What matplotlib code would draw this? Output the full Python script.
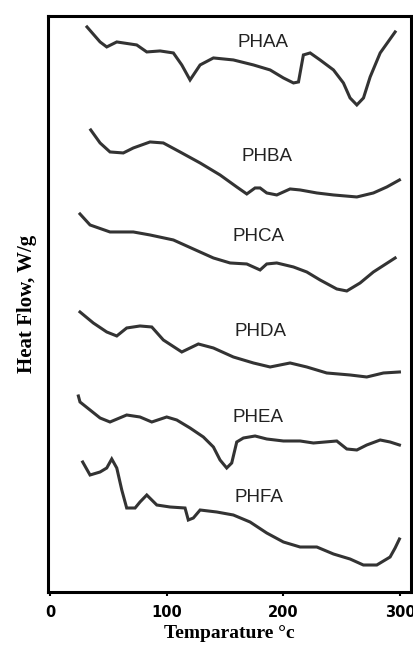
import matplotlib.pyplot as plt

# DSC traces, temperature in deg C, heat flow in arbitrary (offset) units
phaa_t = [31.7, 42.9, 48.6, 57.2, 74.3, 82.9, 94.3, 105.7, 112.9, 120, 128.6, 140, 157.1, 174.3,
          188.6, 200, 208.6, 212.9, 217.1, 222.9, 231.4, 242.9, 251.4, 257.1, 262.9, 268.6, 274.3,
          282.9, 295.7]
phaa_v = [565, 550, 545, 550, 547, 540, 541, 539, 527, 512, 527, 534, 532, 527,
          522, 514, 509, 510, 537, 539, 532, 522, 509, 494, 487, 494, 515,
          539, 560]

phba_t = [34.9, 42.9, 51.4, 62.8, 71.4, 85.7, 97.1, 111.4, 128.6, 145.7, 160, 168.6, 175.7, 180,
          185.7, 194.3, 205.7, 214.3, 228.6, 242.9, 262.9, 277.1, 288.6, 299.4]
phba_v = [462, 449, 440, 439, 444, 450, 449, 440, 429, 417, 405, 398, 404, 404,
          399, 397, 403, 402, 399, 397, 395, 399, 405, 412]

phca_t = [25.7, 34.3, 51.4, 71.4, 85.7, 105.7, 122.8, 140, 154.3, 168.6, 180, 185.7, 194.3, 208.6,
          220, 231.4, 245.7, 254.3, 265.7, 277.1, 295.7]
phca_v = [378, 367, 360, 360, 357, 352, 343, 334, 329, 328, 322, 328, 329, 325,
          320, 312, 303, 301, 309, 320, 334]

phda_t = [25.7, 37.1, 48.6, 57.2, 65.7, 77.1, 87.2, 97.1, 112.9, 127.1, 140, 157.1, 174.3, 188.6,
          205.7, 220, 237.1, 257.1, 271.4, 285.7, 299.4]
phda_v = [280, 269, 260, 256, 264, 266, 265, 252, 240, 248, 244, 235, 229, 225,
          229, 225, 219, 217, 215, 219, 220]

phea_t = [24.3, 25.7, 34.3, 42.9, 51.4, 65.7, 77.1, 87.2, 100, 108.6, 120, 131.4, 140, 145.7,
          151.4, 155.7, 160, 165.7, 175.7, 185.7, 200, 214.3, 225.7, 245.7, 254.3, 262.9, 271.4,
          282.9, 291.4, 299.4]
phea_v = [196, 190, 182, 174, 170, 177, 175, 170, 175, 172, 164, 155, 145, 132,
          124, 129, 150, 154, 156, 153, 151, 151, 149, 151, 143, 142, 147,
          152, 150, 147]

phfa_t = [28, 34.3, 42.9, 48.6, 52.9, 57.2, 61.5, 65.7, 72.9, 77.1, 82.9, 91.5, 102.9, 115.7,
          118.5, 122.8, 128.6, 142.9, 157.1, 171.4, 185.7, 200, 214.3, 228.6, 242.9, 257.1, 268.5,
          280, 291.4, 295.7, 299.4]
phfa_v = [130, 117, 120, 124, 133, 124, 102, 84, 84, 90, 97, 87, 85, 84,
          72, 74, 82, 80, 77, 70, 59, 50, 45, 45, 38, 33, 27,
          27, 35, 44, 53]

names = ["PHAA", "PHBA", "PHCA", "PHDA", "PHEA", "PHFA"]
label_t = [182.6, 186, 178.6, 180, 178.6, 179.4]
label_v = [549, 435, 355, 260, 174, 95]

traces = [(phaa_t, phaa_v), (phba_t, phba_v), (phca_t, phca_v),
          (phda_t, phda_v), (phea_t, phea_v), (phfa_t, phfa_v)]

fig = plt.figure(figsize=(4.14, 6.48), dpi=100)
ax = fig.add_axes([0.116, 0.0864, 0.877, 0.889])

for (t, v), name, lt, lv in zip(traces, names, label_t, label_v):
    ax.plot(t, v, color="#333333", lw=2.2, solid_joinstyle="miter")
    ax.text(lt, lv, name, ha="center", va="center", fontsize=13.5,
            family="Liberation Sans", color="#222222")

ax.set_xlim(-1.7, 309.4)
ax.set_ylim(0, 576)
ax.set_xticks([0, 100, 200, 300])
ax.set_xticklabels(["0", "100", "200", "300"], fontsize=10.5, fontweight="bold",
                   family="DejaVu Sans")
ax.set_yticks([])
ax.tick_params(axis="x", direction="out", length=3, width=1.5, pad=6)
for s in ax.spines.values():
    s.set_linewidth(2.2)

ax.set_xlabel("Temparature °c", fontsize=14, fontweight="bold",
              family="Liberation Serif", labelpad=4)
ax.set_ylabel("Heat Flow, W/g", fontsize=15, fontweight="bold",
              family="Liberation Serif", labelpad=8)

fig.savefig("out.png", dpi=100)
plt.close(fig)
